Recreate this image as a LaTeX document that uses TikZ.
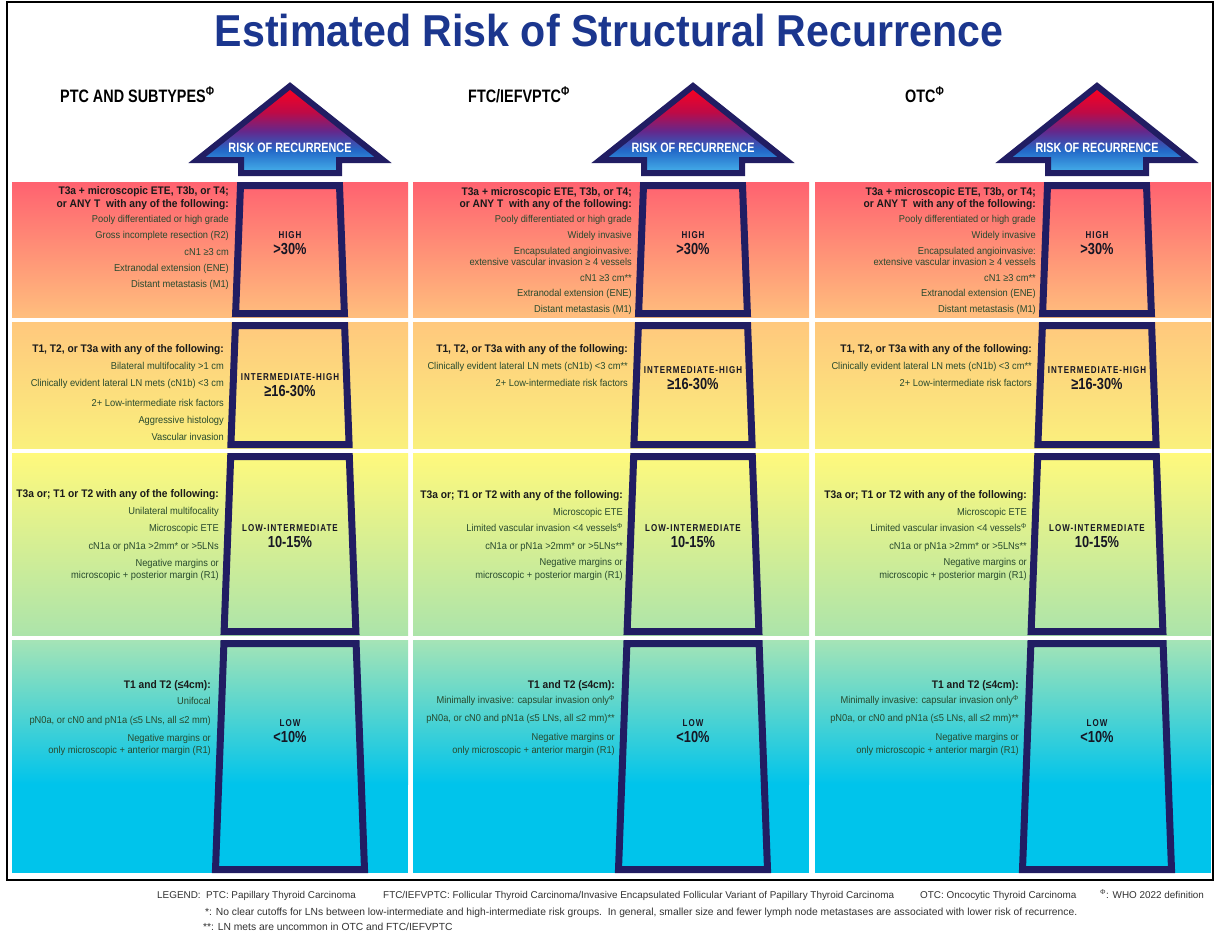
\documentclass[tikz,border=0pt]{standalone}
\usepackage{fontspec}
\setmainfont{Liberation Sans}[FakeStretch=0.93]
\newfontfamily\condfont{Liberation Sans}[FakeStretch=0.8]
\newfontfamily\titlefont{Liberation Sans}[FakeStretch=0.92]
\newfontfamily\legendfont{Liberation Sans}
\usepackage{xcolor}

\definecolor{navy}{RGB}{33,29,99}
\definecolor{titleblue}{RGB}{27,54,142}
\definecolor{itemgreen}{RGB}{40,74,46}
\definecolor{headblack}{RGB}{26,26,26}
\definecolor{lvlblack}{RGB}{22,22,36}
\definecolor{legendgray}{RGB}{50,50,50}
\definecolor{redtop}{RGB}{255,98,112}
\definecolor{peach}{RGB}{255,190,125}
\definecolor{apricot}{RGB}{255,200,125}
\definecolor{lemon}{RGB}{250,240,125}
\definecolor{yellowtop}{RGB}{255,249,125}
\definecolor{yellowgreen}{RGB}{232,244,135}
\definecolor{mint}{RGB}{172,228,170}
\definecolor{minttop}{RGB}{165,228,182}
\definecolor{cyanlow}{RGB}{0,196,235}
\definecolor{arrA}{RGB}{70,178,235}
\definecolor{arrB}{RGB}{35,105,200}
\definecolor{arrC}{RGB}{100,40,140}
\definecolor{arrD}{RGB}{190,10,70}
\definecolor{arrE}{RGB}{255,0,30}

\pgfdeclareverticalshading{riskshade}{100bp}{color(0bp)=(arrA); color(25bp)=(arrA); color(38bp)=(arrB); color(49bp)=(arrC); color(60bp)=(arrD); color(75bp)=(arrE); color(100bp)=(arrE)}

\newcommand{\hd}[1]{{\fontsize{11}{13}\selectfont\bfseries\color{headblack}#1}}
\newcommand{\lvltxt}[2]{{\fontsize{10}{12}\selectfont\addfontfeature{LetterSpace=10}#1}\\[4pt]{\fontsize{16}{18}\selectfont #2}}
\newcommand{\phisup}{\textsuperscript{Φ}}

\tikzset{
  crit/.style={anchor=north east, align=right, inner sep=0pt, text=itemgreen, font=\fontsize{10}{12.3}\selectfont},
  lvl/.style={align=center, inner sep=0pt, text=lvlblack, font=\condfont\bfseries},
  hdr/.style={anchor=base west, inner sep=0pt, font=\condfont\fontsize{18}{20}\selectfont\bfseries},
  risktext/.style={text=white, inner sep=0pt, font=\condfont\fontsize{13.5}{15}\selectfont\bfseries},
  towerline/.style={draw=navy, line width=7pt, line join=miter},
  legend/.style={anchor=base west, inner sep=0pt, text=legendgray, font=\legendfont\fontsize{10.3}{12}\selectfont},
  legtop/.style={legend, font=\legendfont\fontsize{9.9}{12}\selectfont}
}

\begin{document}
\begin{tikzpicture}[x=1pt,y=-1pt]
\useasboundingbox (0,0) rectangle (1215,935);
\fill[white] (0,0) rectangle (1215,935);

% title
\node[font=\titlefont\fontsize{44.7}{50}\selectfont\bfseries, text=titleblue] (title) at (609,31) {Estimated Risk of Structural Recurrence};

% coloured bands
\foreach \x in {12,413,815}{
  \shade[top color=redtop, bottom color=peach] (\x,182) rectangle ++(396,135);
  \shade[top color=apricot, bottom color=lemon] (\x,322) rectangle ++(396,126);
  \shade[top color=yellowtop, middle color=yellowgreen, bottom color=mint] (\x,453) rectangle ++(396,182);
  \fill[cyanlow] (\x,783) rectangle ++(396,90);
  \shade[top color=minttop, bottom color=cyanlow] (\x,640) rectangle ++(396,144);
}

% towers and arrows
\foreach \c [count=\k] in {290,693,1097}{
  \foreach \yt/\yb/\wt/\wb in {182/317/53/57.9, 322/448/58.1/62.6, 453/635/62.8/69.4, 640/873/69.6/78}{
    \draw[towerline] ({\c-\wt+3.5},{\yt+3.5}) -- ({\c+\wt-3.5},{\yt+3.5}) -- ({\c+\wb-3.5},{\yb-3.5}) -- ({\c-\wb+3.5},{\yb-3.5}) -- cycle;
  }
  \shadedraw[shading=riskshade, draw=navy, line width=6pt, line join=miter] (\c,86) -- ({\c+93},160) -- ({\c+49},160) -- ({\c+49},173) -- ({\c-49},173) -- ({\c-49},160) -- ({\c-93},160) -- cycle;
  \node[risktext] (risk\k) at (\c,148) {RISK OF RECURRENCE};
  \node[lvl] (lvl\k-1) at (\c,243) {\lvltxt{HIGH}{>30\%}};
  \node[lvl] (lvl\k-3) at (\c,536) {\lvltxt{LOW-INTERMEDIATE}{10-15\%}};
  \node[lvl] (lvl\k-4) at (\c,731) {\lvltxt{LOW}{<10\%}};
}
\node[lvl] (lvl1-2) at (290,385) {\lvltxt{INTERMEDIATE-HIGH}{≥16-30\%}};
\node[lvl] (lvl2-2) at (693,378) {\lvltxt{INTERMEDIATE-HIGH}{≥16-30\%}};
\node[lvl] (lvl3-2) at (1097,378) {\lvltxt{INTERMEDIATE-HIGH}{≥16-30\%}};

% column heads
\node[hdr] (hdr1) at (60,102) {PTC AND SUBTYPES\phisup};
\node[hdr] (hdr2) at (468,102) {FTC/IEFVPTC\phisup};
\node[hdr] (hdr3) at (905,102) {OTC\phisup};

% PTC column
\node[crit] (crit1-1) at (229,186) {\hd{T3a + microscopic ETE, T3b, or T4;}\\[0.7pt]\hd{or ANY T\ \ with any of the following:}\\[3.2pt]Pooly differentiated or high grade\\[4pt]Gross incomplete resection (R2)\\[4pt]cN1 ≥3 cm\\[4pt]Extranodal extension (ENE)\\[4pt]Distant metastasis (M1)};
\node[crit] (crit1-2) at (224,344) {\hd{T1, T2, or T3a with any of the following:}\\[5.2pt]Bilateral multifocality >1 cm\\[4.7pt]Clinically evident lateral LN mets (cN1b) <3 cm\\[7.7pt]2+ Low-intermediate risk factors\\[4.7pt]Aggressive histology\\[4.7pt]Vascular invasion};
\node[crit] (crit1-3) at (219,489) {\hd{T3a or; T1 or T2 with any of the following:}\\[5.2pt]Unilateral multifocality\\[4.7pt]Microscopic ETE\\[5.7pt]cN1a or pN1a >2mm* or >5LNs\\[4.7pt]Negative margins or\\microscopic + posterior margin (R1)};
\node[crit] (crit1-4) at (211,680) {\hd{T1 and T2 (≤4cm):}\\[4.2pt]Unifocal\\[6.7pt]pN0a, or cN0 and pN1a (≤5 LNs, all ≤2 mm)\\[5.7pt]Negative margins or\\only microscopic + anterior margin (R1)};

% FTC/IEFVPTC and OTC columns
\foreach \c [count=\k from 2] in {693,1097}{
  \node[crit] (crit\k-1) at ({\c-61},187) {\hd{T3a + microscopic ETE, T3b, or T4;}\\\hd{or ANY T\ \ with any of the following:}\\[3.2pt]Pooly differentiated or high grade\\[3.5pt]Widely invasive\\[3.5pt]Encapsulated angioinvasive:\\[-1pt]extensive vascular invasion ≥ 4 vessels\\[3.5pt]cN1 ≥3 cm**\\[3pt]Extranodal extension (ENE)\\[3pt]Distant metastasis (M1)};
  \node[crit] (crit\k-2) at ({\c-65},344) {\hd{T1, T2, or T3a with any of the following:}\\[5.2pt]Clinically evident lateral LN mets (cN1b) <3 cm**\\[4.7pt]2+ Low-intermediate risk factors};
  \node[crit] (crit\k-3) at ({\c-70},490) {\hd{T3a or; T1 or T2 with any of the following:}\\[5.2pt]Microscopic ETE\\[3.7pt]Limited vascular invasion <4 vessels\phisup\\[5.7pt]cN1a or pN1a >2mm* or >5LNs**\\[3.7pt]Negative margins or\\[0.7pt]microscopic + posterior margin (R1)};
  \node[crit] (crit\k-4) at ({\c-78},680) {\hd{T1 and T2 (≤4cm):}\\[3.2pt]Minimally invasive: capsular invasion only\phisup\\[5.7pt]pN0a, or cN0 and pN1a (≤5 LNs, all ≤2 mm)**\\[6.7pt]Negative margins or\\[0.7pt]only microscopic + anterior margin (R1)};
}

% frame
\draw[line width=2pt] (7,2) rectangle (1213,880);

% legend
\node[legtop] (leg-a) at (157,898) {LEGEND:};
\node[legtop] (leg-b) at (206,898) {PTC: Papillary Thyroid Carcinoma};
\node[legtop] (leg-c) at (383,898) {FTC/IEFVPTC: Follicular Thyroid Carcinoma/Invasive Encapsulated Follicular Variant of Papillary Thyroid Carcinoma};
\node[legtop] (leg-d) at (920,898) {OTC: Oncocytic Thyroid Carcinoma};
\node[legtop] (leg-e) at (1100,898) {\phisup: WHO 2022 definition};
\node[legend] (leg-f) at (205,915) {*: No clear cutoffs for LNs between low-intermediate and high-intermediate risk groups.\ \ In general, smaller size and fewer lymph node metastases are associated with lower risk of recurrence.};
\node[legend] (leg-g) at (203,930) {**: LN mets are uncommon in OTC and FTC/IEFVPTC};
\end{tikzpicture}
\end{document}
